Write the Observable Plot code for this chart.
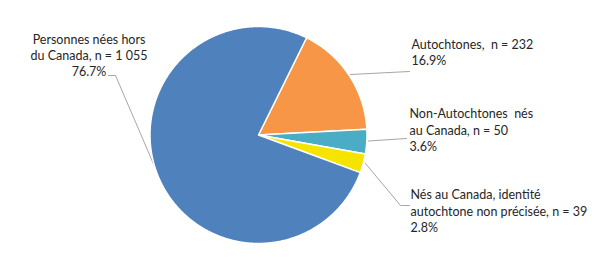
<!DOCTYPE html>
<html><head><meta charset="utf-8">
<script src="https://cdn.jsdelivr.net/npm/d3@7"></script>
<script src="https://cdn.jsdelivr.net/npm/@observablehq/plot@0.6"></script>
<style>body{margin:0;background:#fff}</style>
</head><body><div id="chart"></div>
<script>
// ---- data (clockwise order) ----
const categories = [
  "Autochtones,\u00a0 n = 232",
  "Non-Autochtones\u00a0 nés\nau Canada, n = 50",
  "Nés au Canada, identité\nautochtone non précisée, n = 39",
  "Personnes nées hors\ndu Canada, n = 1 055"
];
const counts = [232, 50, 39, 1055];
const percentLabels = ["16.9%", "3.6%", "2.8%", "76.7%"];
const colors = ["#f79646", "#4bacc6", "#f5e400", "#4f81bd"];

// ---- layout ----
const W = 616, H = 275;
const cx = 258, cy = 134.5, R = 108.5;
const firstSliceAngle = 26.3; // degrees, clockwise from top
const labelPos = [
  {x: 411, y: 51, anchor: "start"},
  {x: 409, y: 129, anchor: "start"},
  {x: 410, y: 210, anchor: "start"},
  {x: 88.5, y: 54.5, anchor: "middle"}
];
const leaders = [
  [[350, 74], [409, 71]],
  [[368, 140.5], [406, 138]],
  [[365, 163], [400, 205], [409, 205]],
  [[158, 175], [115, 75], [108, 75]]
];

const total = d3.sum(counts);
const slicePts = [];
let acc = firstSliceAngle;
counts.forEach((c, i) => {
  const a0 = acc, a1 = acc + c / total * 360;
  acc = a1;
  slicePts.push({slice: i, x: cx, y: cy});
  const n = Math.max(2, Math.ceil((a1 - a0) / 0.5));
  for (let k = 0; k <= n; k++) {
    const a = (a0 + (a1 - a0) * k / n) * Math.PI / 180;
    slicePts.push({slice: i, x: cx + R * Math.sin(a), y: cy - R * Math.cos(a)});
  }
  slicePts.push({slice: i, x: cx, y: cy});
});

const leaderPts = leaders.flatMap((l, i) => l.map(([x, y]) => ({leader: i, x, y})));
const labels = categories.map((c, i) => ({text: c + "\n" + percentLabels[i], ...labelPos[i]}));

const plot = Plot.plot({
  width: W, height: H,
  margin: 0,
  x: {domain: [0, W], range: [0, W], axis: null},
  y: {domain: [0, H], range: [0, H], axis: null},
  style: {fontFamily: "Lato, sans-serif", background: "#fff"},
  marks: [
    Plot.line(leaderPts, {x: "x", y: "y", z: "leader", stroke: "#a6a6a6", strokeWidth: 1, curve: "linear"}),
    Plot.line(slicePts, {x: "x", y: "y", z: "slice", fill: d => colors[d.slice], stroke: "#fff", strokeWidth: 1.5, strokeLinejoin: "round", curve: "linear"}),
    Plot.text(labels.filter(d => d.anchor === "start"), {x: "x", y: "y", text: "text", textAnchor: "start", lineAnchor: "middle", lineHeight: 1.3, fontSize: 12.5, fill: "#262626"}),
    Plot.text(labels.filter(d => d.anchor === "middle"), {x: "x", y: "y", text: "text", textAnchor: "middle", lineAnchor: "middle", lineHeight: 1.3, fontSize: 12.5, fill: "#262626"})
  ]
});
document.getElementById("chart").appendChild(plot);
</script>
</body></html>
